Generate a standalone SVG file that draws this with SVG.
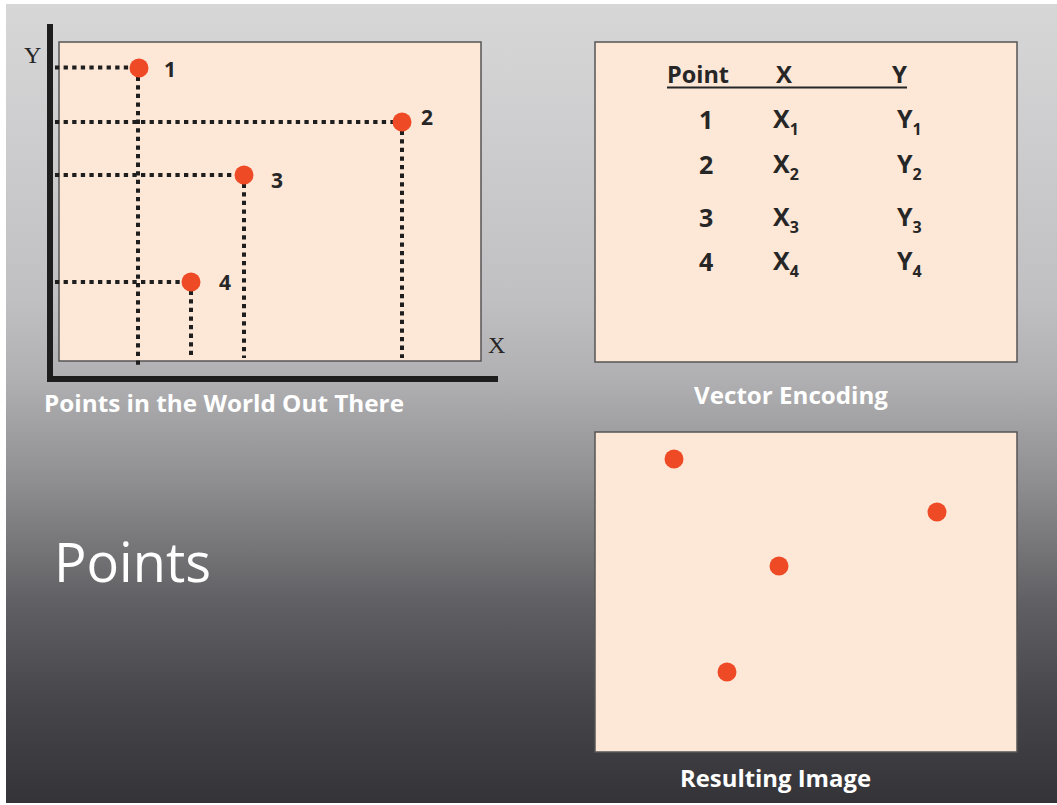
<svg xmlns="http://www.w3.org/2000/svg" width="1057" height="805" viewBox="0 0 1057 805">
<defs>
<linearGradient id="bg" x1="0" y1="0" x2="0" y2="1">
<stop offset="0" stop-color="#d8d7d8"/>
<stop offset="0.37" stop-color="#c0c0c2"/>
<stop offset="0.47" stop-color="#b0b0b2"/>
<stop offset="0.6" stop-color="#8e8e90"/>
<stop offset="0.75" stop-color="#606064"/>
<stop offset="0.87" stop-color="#47474b"/>
<stop offset="1" stop-color="#333338"/>
</linearGradient>
<style>
.box{fill:#fde7d6;stroke:#555;stroke-width:1.5}
.dot{fill:#ee4a25}
.dash{stroke:#1e1e1e;stroke-width:4;stroke-dasharray:4.3 4.3;fill:none}
.axis{stroke:#1e1e1e;stroke-width:6;fill:none}
.lbl{font-family:"Open Sans","Liberation Sans",sans-serif;font-weight:bold;fill:#262626;font-size:21px}
.tbl{font-family:"Open Sans","Liberation Sans",sans-serif;font-weight:bold;fill:#262626;font-size:25px}
.hdr{font-size:24px}
.sub{font-size:16px}
.cap{font-family:"Open Sans","Liberation Sans",sans-serif;font-weight:bold;fill:#ffffff;font-size:24px}
.serif{font-family:"Liberation Serif",serif;fill:#262626;font-size:24px}
</style>
</defs>
<rect x="0" y="0" width="1057" height="805" fill="#ffffff"/>
<rect x="6" y="4" width="1051" height="799" fill="url(#bg)"/>

<g id="world">
<rect class="box" x="59" y="42" width="422" height="319"/>
<path class="axis" d="M50,24 V380 M47,379 H498"/>
<text class="serif" x="24" y="63">Y</text>
<text class="serif" x="488" y="353">X</text>
</g>

<g id="connectors">
<path class="dash" d="M55,67.5 H139 M55,122 H402 M55,175 H244 M55,282 H191"/>
<path class="dash" d="M138,68 V368 M402,122 V358 M244,175 V358 M191,282 V358"/>
</g>

<g id="p1"><circle class="dot" cx="139" cy="68" r="9.5"/><text class="lbl" x="164" y="77">1</text></g>
<g id="p2"><circle class="dot" cx="402" cy="122" r="9.5"/><text class="lbl" x="421" y="125">2</text></g>
<g id="p3"><circle class="dot" cx="244" cy="175" r="9.5"/><text class="lbl" x="271" y="188">3</text></g>
<g id="p4"><circle class="dot" cx="191" cy="282" r="9.5"/><text class="lbl" x="219" y="290">4</text></g>

<text class="cap" x="44" y="412" textLength="360" lengthAdjust="spacingAndGlyphs">Points in the World Out There</text>

<g id="table">
<rect class="box" x="595" y="42" width="422" height="320"/>
<text class="tbl hdr" x="667" y="83" textLength="62" lengthAdjust="spacingAndGlyphs">Point</text>
<text class="tbl hdr" x="776" y="83">X</text>
<text class="tbl hdr" x="892" y="83">Y</text>
<line x1="667" y1="87.5" x2="907" y2="87.5" stroke="#262626" stroke-width="2"/>
<text class="tbl" x="699" y="129">1</text>
<text class="tbl" x="699" y="174">2</text>
<text class="tbl" x="699" y="227">3</text>
<text class="tbl" x="699" y="271">4</text>
<text class="tbl" x="773" y="128">X<tspan class="sub" dy="7">1</tspan></text>
<text class="tbl" x="773" y="173">X<tspan class="sub" dy="7">2</tspan></text>
<text class="tbl" x="773" y="226">X<tspan class="sub" dy="7">3</tspan></text>
<text class="tbl" x="773" y="270">X<tspan class="sub" dy="7">4</tspan></text>
<text class="tbl" x="897" y="128">Y<tspan class="sub" dy="7">1</tspan></text>
<text class="tbl" x="897" y="173">Y<tspan class="sub" dy="7">2</tspan></text>
<text class="tbl" x="897" y="226">Y<tspan class="sub" dy="7">3</tspan></text>
<text class="tbl" x="897" y="270">Y<tspan class="sub" dy="7">4</tspan></text>
</g>
<text class="cap" x="694" y="404" textLength="194" lengthAdjust="spacingAndGlyphs">Vector Encoding</text>

<g id="image">
<rect class="box" x="595" y="432" width="422" height="320"/>
<circle class="dot" cx="674" cy="459" r="9.5"/>
<circle class="dot" cx="937" cy="512" r="9.5"/>
<circle class="dot" cx="779" cy="566" r="9.5"/>
<circle class="dot" cx="727" cy="672" r="9.5"/>
</g>
<text class="cap" x="680" y="787" textLength="191" lengthAdjust="spacingAndGlyphs">Resulting Image</text>

<text x="54" y="582" font-family="Open Sans, Liberation Sans, sans-serif" font-size="54" fill="#ffffff" textLength="157" lengthAdjust="spacingAndGlyphs">Points</text>
</svg>
